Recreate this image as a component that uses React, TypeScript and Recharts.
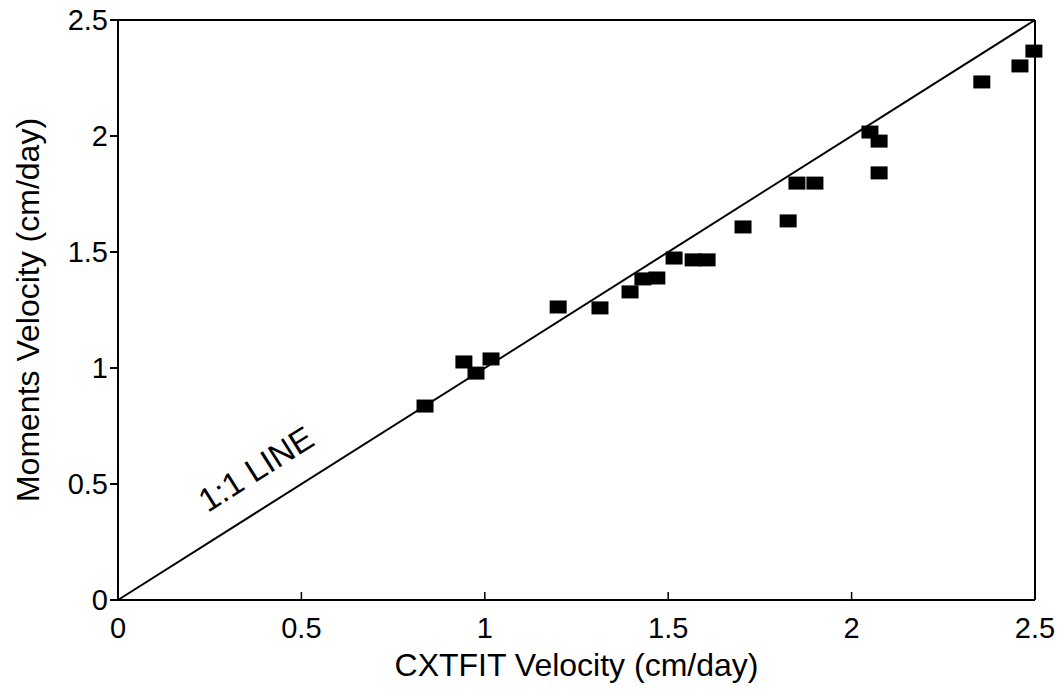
import { ScatterChart, Scatter, XAxis, YAxis, ReferenceLine, ReferenceDot } from "recharts";

// CXTFIT velocity vs moments velocity (cm/day)
const cxtfitVelocity = [
  0.837, 0.943, 0.976, 1.017, 1.2, 1.314, 1.396, 1.431, 1.469, 1.516, 1.568,
  1.606, 1.704, 1.827, 1.851, 1.9, 2.05, 2.075, 2.075, 2.355, 2.459, 2.497,
];
const momentsVelocity = [
  0.836, 1.026, 0.978, 1.039, 1.263, 1.259, 1.328, 1.384, 1.388, 1.474, 1.466,
  1.466, 1.608, 1.634, 1.797, 1.797, 2.017, 1.978, 1.841, 2.233, 2.302, 2.366,
];
const axisTicks = [0, 0.5, 1, 1.5, 2, 2.5];

const points = cxtfitVelocity.map((x, i) => ({ x, y: momentsVelocity[i] }));

const FONT = "'Liberation Sans', Arial, sans-serif";

const XTick = (props: any) => {
  const { x, y, payload } = props;
  return (
    <g>
      <line x1={x} x2={x} y1={y} y2={y - 8} stroke="#000" strokeWidth={1.5} />
      <text x={x} y={y + 38} textAnchor="middle" fontSize={29} fontFamily={FONT} fill="#000">
        {payload.value}
      </text>
    </g>
  );
};

const YTick = (props: any) => {
  const { x, y, payload } = props;
  return (
    <text x={x} y={y} dy={10} textAnchor="end" fontSize={29} fontFamily={FONT} fill="#000">
      {payload.value}
    </text>
  );
};

const SquareMarker = (props: any) => {
  const { cx, cy } = props;
  return <rect x={cx - 8.5} y={cy - 6.5} width={17} height={13} fill="#000" />;
};

const LineLabel = (props: any) => {
  const { cx, cy } = props;
  return (
    <text
      x={cx}
      y={cy}
      textAnchor="middle"
      dominantBaseline="central"
      fontSize={33}
      fontFamily={FONT}
      fill="#000"
      transform={`rotate(-32.3, ${cx}, ${cy})`}
    >
      1:1 LINE
    </text>
  );
};

export default function App() {
  return (
    <div style={{ position: "absolute", left: 0, top: 0, background: "#fff" }}>
      <ScatterChart width={1061} height={693} margin={{ top: 20, right: 26, bottom: 13, left: 14 }}>
        <XAxis
          type="number"
          dataKey="x"
          domain={[0, 2.5]}
          ticks={axisTicks}
          height={80}
          stroke="#000"
          strokeWidth={2}
          tickSize={0}
          tickMargin={0}
          tick={<XTick />}
          label={{
            value: "CXTFIT Velocity (cm/day)",
            position: "insideBottom",
            offset: 4,
            fontSize: 32,
            fontFamily: FONT,
            fill: "#000",
          }}
        />
        <YAxis
          type="number"
          dataKey="y"
          domain={[0, 2.5]}
          ticks={axisTicks}
          width={104}
          stroke="#000"
          strokeWidth={2}
          tickSize={8}
          tickMargin={2}
          tick={<YTick />}
          label={{
            value: "Moments Velocity (cm/day)",
            angle: -90,
            position: "insideLeft",
            offset: 14,
            fontSize: 32,
            fontFamily: FONT,
            fill: "#000",
            style: { textAnchor: "middle" },
          }}
        />
        <ReferenceLine y={2.5} stroke="#000" strokeWidth={2} />
        <ReferenceLine x={2.5} stroke="#000" strokeWidth={2} />
        <ReferenceLine
          segment={[
            { x: 0, y: 0 },
            { x: 2.5, y: 2.5 },
          ]}
          stroke="#000"
          strokeWidth={2}
        />
        <ReferenceDot x={0.376} y={0.565} r={0} shape={<LineLabel />} />
        <Scatter data={points} fill="#000" shape={<SquareMarker />} isAnimationActive={false} />
      </ScatterChart>
    </div>
  );
}
